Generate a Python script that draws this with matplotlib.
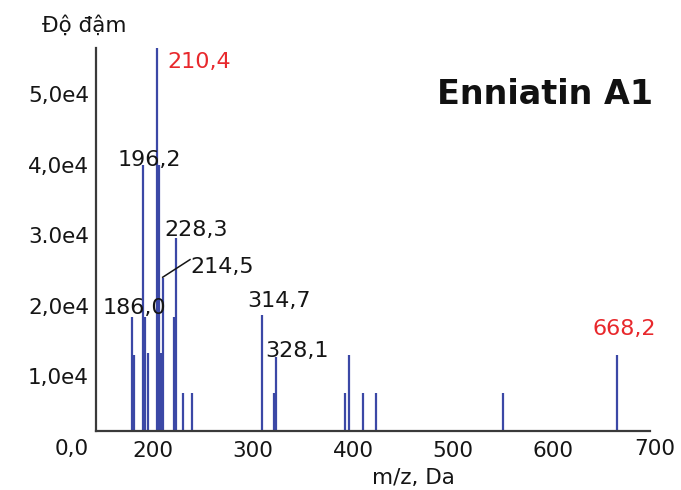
import matplotlib
matplotlib.use("Agg")
import matplotlib.pyplot as plt
import matplotlib.transforms as mtransforms

# peak positions (m/z) and intensities
mz = [179.3, 181.0, 189.7, 192.0, 195.3, 203.7, 206.3, 208.0, 209.7, 221.3, 223.0,
      230.3, 238.7, 309.3, 321.0, 322.7, 392.0, 396.0, 409.7, 423.0, 549.7, 664.3]
intensity = [1.62e4, 1.08e4, 3.77e4, 1.62e4, 1.11e4, 5.43e4, 3.77e4, 1.11e4, 2.17e4,
             1.62e4, 2.74e4, 0.54e4, 0.54e4, 1.65e4, 0.54e4, 1.05e4, 0.54e4, 1.08e4,
             0.54e4, 0.54e4, 0.54e4, 1.08e4]

peak_labels = ["210,4", "196,2", "228,3", "214,5", "186,0", "314,7", "328,1", "668,2"]
label_x = [214, 165, 211, 237, 150, 294, 312, 639]
label_y = [5.23e4, 3.84e4, 2.85e4, 2.33e4, 1.74e4, 1.84e4, 1.13e4, 1.45e4]
label_red = [True, False, False, False, False, False, False, True]

yticks = [0, 1e4, 2e4, 3e4, 4e4, 5e4]
ytick_labels = ["0,0", "1,0e4", "2,0e4", "3.0e4", "4,0e4", "5,0e4"]
xticks = [200, 300, 400, 500, 600]

BLUE = "#3b48a6"
RED = "#e8282c"
TXT = "#151515"

fig = plt.figure(figsize=(6.81, 4.90), dpi=100)
ax = fig.add_axes([96 / 681, 59 / 490, 557 / 681, 383 / 490])

ax.vlines(mz, 0, intensity, color=BLUE, lw=1.6, clip_on=False)

ax.set_xlim(143, 700)
ax.set_ylim(0, 5.43e4)

for s in ["top", "right"]:
    ax.spines[s].set_visible(False)
for s in ["left", "bottom"]:
    ax.spines[s].set_color("#3a3a3a")
    ax.spines[s].set_linewidth(1.6)
ax.spines["bottom"].set_bounds(143, 697)

ax.set_xticks(xticks)
ax.set_xticklabels([str(t) for t in xticks])
ax.set_yticks(yticks)
ax.set_yticklabels(ytick_labels)
ax.tick_params(axis="both", length=0, labelsize=15.5, colors=TXT)
ax.tick_params(axis="x", pad=7)
ax.tick_params(axis="y", pad=5)

# the y tick labels sit a bit below their ticks in the original
shift = mtransforms.ScaledTranslation(0, -16 / 100, fig.dpi_scale_trans)
for lab in ax.get_yticklabels():
    lab.set_transform(lab.get_transform() + shift)

# "700" sits past the end of the axis line
t700 = ax.text(702, 0, "700", fontsize=15.5, color=TXT, ha="center", va="top")
t700.set_transform(ax.get_xaxis_transform() +
                   mtransforms.ScaledTranslation(0, -8 / 100, fig.dpi_scale_trans))

for txt, x, y, red in zip(peak_labels, label_x, label_y, label_red):
    ax.text(x, y, txt, fontsize=16, color=RED if red else TXT,
            ha="left", va="center", clip_on=False)

# leader line for 214,5
ax.plot([209.7, 237], [2.18e4, 2.43e4], color=TXT, lw=1.1, clip_on=False)

fig.text(437 / 681, 1 - 94 / 490, "Enniatin A1", fontsize=24, fontweight="bold",
         color="#111111", ha="left", va="center")
fig.text(42 / 681, 1 - 26 / 490, "Độ đậm", fontsize=15.5, color=TXT,
         ha="left", va="center")
fig.text(413 / 681, 1 - 478 / 490, "m/z, Da", fontsize=15.5, color=TXT,
         ha="center", va="center")

fig.savefig("out.png", dpi=100)
